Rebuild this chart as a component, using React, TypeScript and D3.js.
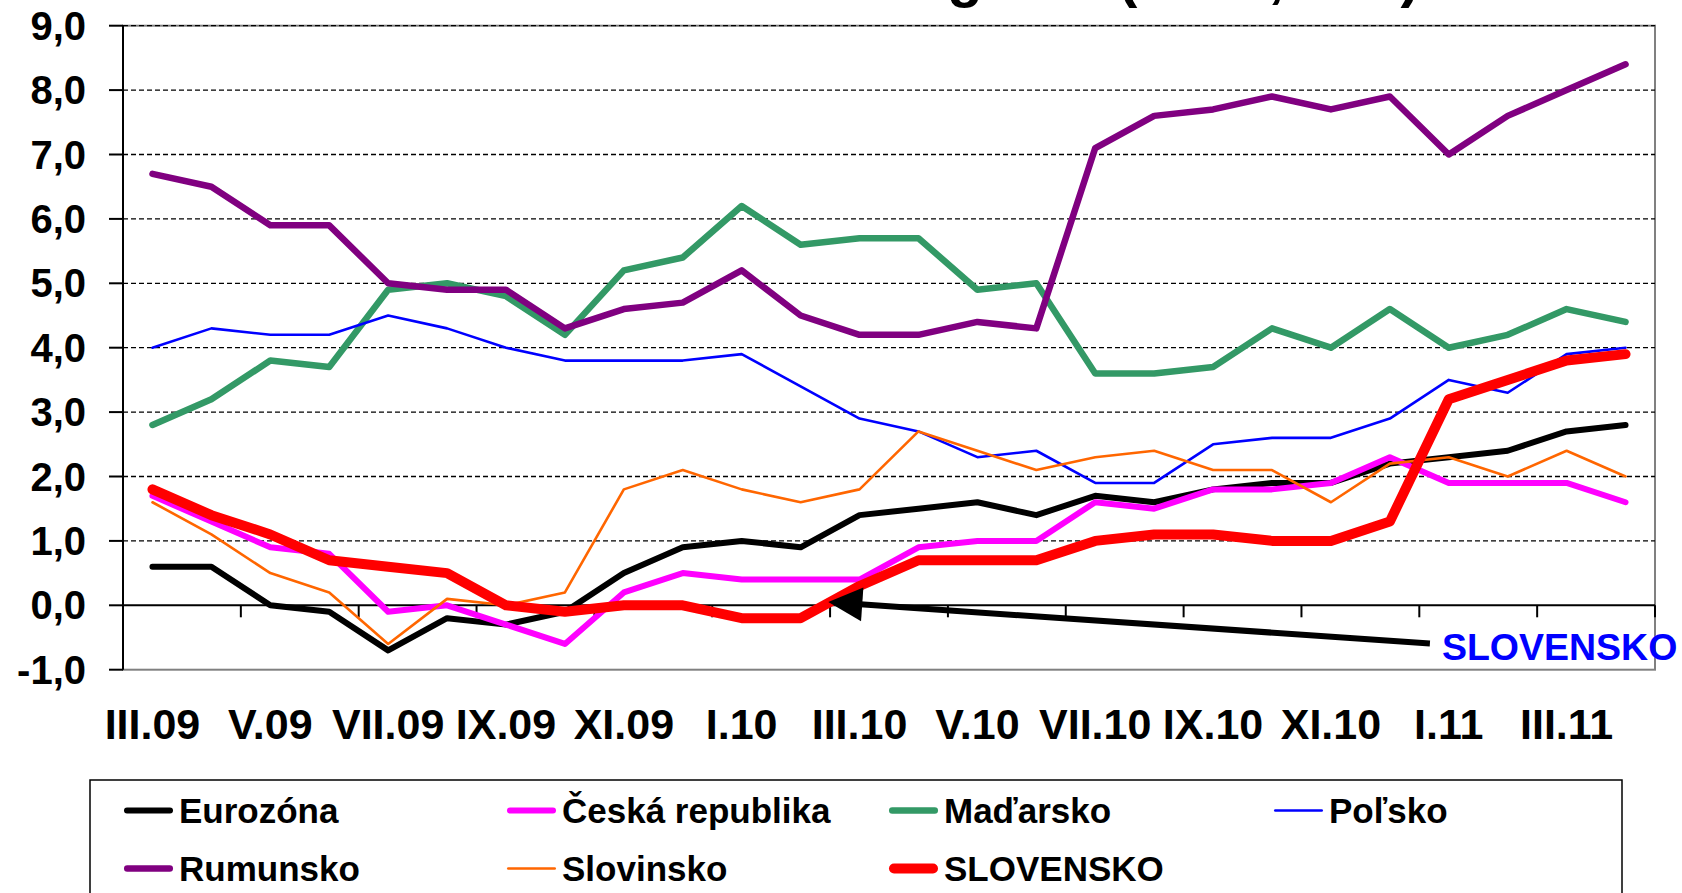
import React, { useLayoutEffect } from 'react';
import * as d3 from 'd3';

const categories = [
  'III.09', 'IV.09', 'V.09', 'VI.09', 'VII.09', 'VIII.09', 'IX.09', 'X.09', 'XI.09', 'XII.09',
  'I.10', 'II.10', 'III.10', 'IV.10', 'V.10', 'VI.10', 'VII.10', 'VIII.10', 'IX.10', 'X.10', 'XI.10', 'XII.10',
  'I.11', 'II.11', 'III.11', 'IV.11',
];

const eurozona = [0.6, 0.6, 0.0, -0.1, -0.7, -0.2, -0.3, -0.1, 0.5, 0.9, 1.0, 0.9, 1.4, 1.5, 1.6, 1.4, 1.7, 1.6, 1.8, 1.9, 1.9, 2.2, 2.3, 2.4, 2.7, 2.8];
const ceskaRepublika = [1.7, 1.3, 0.9, 0.8, -0.1, 0.0, -0.3, -0.6, 0.2, 0.5, 0.4, 0.4, 0.4, 0.9, 1.0, 1.0, 1.6, 1.5, 1.8, 1.8, 1.9, 2.3, 1.9, 1.9, 1.9, 1.6];
const madarsko = [2.8, 3.2, 3.8, 3.7, 4.9, 5.0, 4.8, 4.2, 5.2, 5.4, 6.2, 5.6, 5.7, 5.7, 4.9, 5.0, 3.6, 3.6, 3.7, 4.3, 4.0, 4.6, 4.0, 4.2, 4.6, 4.4];
const polsko = [4.0, 4.3, 4.2, 4.2, 4.5, 4.3, 4.0, 3.8, 3.8, 3.8, 3.9, 3.4, 2.9, 2.7, 2.3, 2.4, 1.9, 1.9, 2.5, 2.6, 2.6, 2.9, 3.5, 3.3, 3.9, 4.0];
const rumunsko = [6.7, 6.5, 5.9, 5.9, 5.0, 4.9, 4.9, 4.3, 4.6, 4.7, 5.2, 4.5, 4.2, 4.2, 4.4, 4.3, 7.1, 7.6, 7.7, 7.9, 7.7, 7.9, 7.0, 7.6, 8.0, 8.4];
const slovinsko = [1.6, 1.1, 0.5, 0.2, -0.6, 0.1, 0.0, 0.2, 1.8, 2.1, 1.8, 1.6, 1.8, 2.7, 2.4, 2.1, 2.3, 2.4, 2.1, 2.1, 1.6, 2.2, 2.3, 2.0, 2.4, 2.0];
const slovensko = [1.8, 1.4, 1.1, 0.7, 0.6, 0.5, 0.0, -0.1, 0.0, 0.0, -0.2, -0.2, 0.3, 0.7, 0.7, 0.7, 1.0, 1.1, 1.1, 1.0, 1.0, 1.3, 3.2, 3.5, 3.8, 3.9];

const yTicks = [-1, 0, 1, 2, 3, 4, 5, 6, 7, 8, 9];
const gridValues = [1, 2, 3, 4, 5, 6, 7, 8, 9];

const titleText = 'Inflácia v regióne (HICP, v %)';
const annotationText = 'SLOVENSKO';
// arrow annotation in data units: [category index, value]
const arrowTip = [11.47, 0.05];
const arrowTail = [21.68, -0.593];

const series = [
  { name: 'Eurozóna', values: eurozona, color: '#000000', width: 6 },
  { name: 'Česká republika', values: ceskaRepublika, color: '#FF00FF', width: 6 },
  { name: 'Maďarsko', values: madarsko, color: '#339966', width: 6.5 },
  { name: 'Poľsko', values: polsko, color: '#0000FF', width: 2.6 },
  { name: 'Rumunsko', values: rumunsko, color: '#800080', width: 6.5 },
  { name: 'Slovinsko', values: slovinsko, color: '#FF6600', width: 2.6 },
  { name: 'SLOVENSKO', values: slovensko, color: '#FF0000', width: 10 },
];

const FONT = '"Liberation Sans", Arial, Helvetica, sans-serif';

export default function App() {
  useLayoutEffect(() => {
    document.body.style.margin = '0';
  }, []);

  const W = 1682;
  const H = 893;
  const left = 123;
  const right = 1655;
  const top = 25.7;
  const bottom = 669.7;

  const x = d3.scaleBand<string>().domain(categories).range([left, right]).paddingInner(0).paddingOuter(0);
  const bw = x.bandwidth();
  const cx = (i: number) => (x(categories[i]) as number) + bw / 2;
  const xi = (k: number) => left + (k + 0.5) * bw;
  const y = d3.scaleLinear().domain([-1, 9]).range([bottom, top]);

  const lineGen = d3
    .line<number>()
    .x((_, i) => cx(i))
    .y((v) => y(v));

  const y0 = y(0);

  const tipX = xi(arrowTip[0]);
  const tipY = y(arrowTip[1]);
  const tailX = xi(arrowTail[0]);
  const tailY = y(arrowTail[1]);
  const dx = tailX - tipX;
  const dy = tailY - tipY;
  const len = Math.sqrt(dx * dx + dy * dy);
  const ux = dx / len;
  const uy = dy / len;
  const headLen = 34;
  const headHalf = 17;
  const bx = tipX + ux * headLen;
  const by = tipY + uy * headLen;
  const nx = -uy;
  const ny = ux;
  const headPts = `${tipX},${tipY} ${bx + nx * headHalf},${by + ny * headHalf} ${bx - nx * headHalf},${by - ny * headHalf}`;

  const legendCols = [124, 507, 889, 1274];
  const legendRows = [823, 881];

  const boundaryTicks = d3.range(0, categories.length + 1, 2);

  return (
    <svg
      width={W}
      height={H}
      viewBox={`0 0 ${W} ${H}`}
      style={{ position: 'absolute', left: 0, top: 0, display: 'block', background: '#ffffff' }}
      fontFamily={FONT}
    >
      <rect x={0} y={0} width={W} height={H} fill="#ffffff" />

      {/* title (cut off at top, only descenders visible) */}
      <text x={628} y={-4} fontSize={58} fontWeight="bold" fill="#000">
        {titleText}
      </text>

      {/* plot border */}
      <rect x={left} y={top} width={right - left} height={bottom - top} fill="none" stroke="#808080" strokeWidth={2} />

      {/* gridlines */}
      {gridValues.map((v) => (
        <line
          key={'g' + v}
          x1={left}
          x2={right}
          y1={y(v)}
          y2={y(v)}
          stroke="#000"
          strokeWidth={1.3}
          strokeDasharray="5,3"
        />
      ))}

      {/* y axis */}
      <line x1={left} x2={left} y1={top} y2={bottom} stroke="#000" strokeWidth={2} />
      {yTicks.map((v) => (
        <g key={'yt' + v}>
          <line x1={left - 14} x2={left} y1={y(v)} y2={y(v)} stroke="#000" strokeWidth={2} />
          <text x={86} y={y(v) + 14} textAnchor="end" fontSize={40} fontWeight="bold" fill="#000">
            {v.toFixed(1).replace('.', ',')}
          </text>
        </g>
      ))}

      {/* x axis at zero */}
      <line x1={left} x2={right} y1={y0} y2={y0} stroke="#000" strokeWidth={2} />
      {boundaryTicks.map((k) => (
        <line key={'xt' + k} x1={left + k * bw} x2={left + k * bw} y1={y0} y2={y0 + 12} stroke="#000" strokeWidth={2} />
      ))}

      {/* x labels */}
      {categories.map((c, i) =>
        i % 2 === 0 ? (
          <text key={'xl' + c} x={cx(i)} y={739} textAnchor="middle" fontSize={43} fontWeight="bold" fill="#000">
            {c}
          </text>
        ) : null
      )}

      {/* series */}
      {series.map((s) => (
        <path
          key={s.name}
          d={lineGen(s.values) || ''}
          fill="none"
          stroke={s.color}
          strokeWidth={s.width}
          strokeLinejoin="round"
          strokeLinecap="round"
        />
      ))}

      {/* annotation arrow */}
      <line x1={bx - ux * 2} y1={by - uy * 2} x2={tailX} y2={tailY} stroke="#000" strokeWidth={6} />
      <polygon points={headPts} fill="#000" />
      <text x={tailX + 12} y={tailY + 16.5} fontSize={37.5} fontWeight="bold" fill="#0000FF">
        {annotationText}
      </text>

      {/* legend */}
      <rect x={90} y={780} width={1532} height={200} fill="#fff" stroke="#000" strokeWidth={1.5} />
      {series.map((s, i) => {
        const col = i % 4;
        const row = Math.floor(i / 4);
        const lx = legendCols[col];
        const ly = legendRows[row];
        return (
          <g key={'lg' + s.name}>
            <line
              x1={lx + s.width / 2}
              x2={lx + 49 - s.width / 2}
              y1={ly - 12.5}
              y2={ly - 12.5}
              stroke={s.color}
              strokeWidth={s.width}
              strokeLinecap="round"
            />
            <text x={lx + 55} y={ly} fontSize={35} fontWeight="bold" fill="#000">
              {s.name}
            </text>
          </g>
        );
      })}
    </svg>
  );
}
